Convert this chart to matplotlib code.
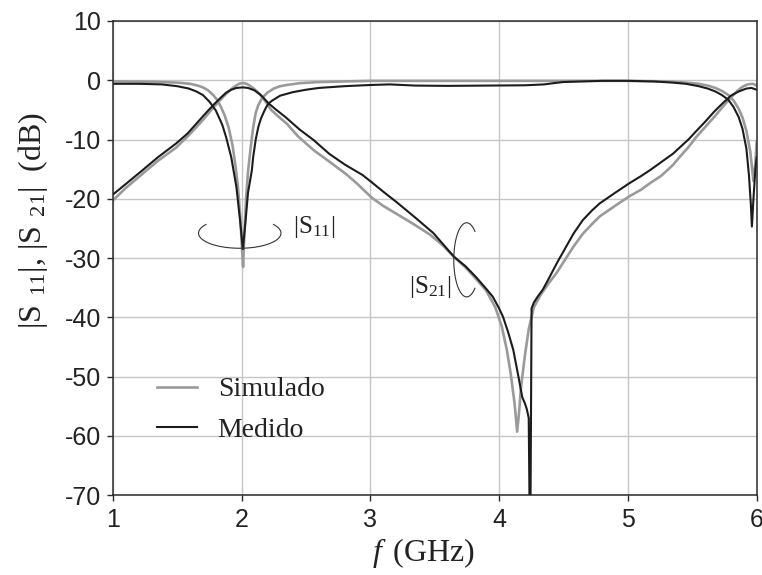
import matplotlib
matplotlib.use('Agg')
import matplotlib.pyplot as plt
import numpy as np

plt.rcParams['axes.unicode_minus'] = False
plt.rcParams['mathtext.fontset'] = 'custom'
plt.rcParams['mathtext.rm'] = 'Liberation Serif'
plt.rcParams['mathtext.it'] = 'Liberation Serif:italic'

# S11, simulated
f_s11_sim = [1.0, 1.3, 1.5, 1.6, 1.66, 1.7, 1.74, 1.78, 1.81, 1.84, 1.87, 1.9, 1.93,
             1.95, 1.97, 1.99, 2.005, 2.012, 2.02, 2.035, 2.05, 2.07, 2.09, 2.11, 2.13,
             2.16, 2.2, 2.25, 2.3, 2.35, 2.45, 2.6, 2.8, 3.0, 3.5, 4.0, 4.5, 5.0, 5.3,
             5.45, 5.55, 5.62, 5.68, 5.73, 5.78, 5.82, 5.86, 5.89, 5.92, 5.95, 5.975,
             5.99, 6.0]
db_s11_sim = [-0.2, -0.25, -0.4, -0.6, -0.9, -1.2, -1.7, -2.5, -3.3, -4.5, -6.0, -8.0,
              -11.0, -14.0, -17.5, -23.0, -29.0, -31.5, -27.0, -20.0, -15.5, -11.5,
              -8.0, -5.5, -4.2, -3.0, -2.1, -1.4, -1.0, -0.8, -0.5, -0.3, -0.2, -0.1,
              -0.1, -0.1, -0.1, -0.1, -0.2, -0.4, -0.6, -0.9, -1.3, -1.8, -2.5, -3.4,
              -4.8, -6.3, -8.5, -12.0, -17.0, -14.0, -10.5]

# S11, measured
f_s11_meas = [1.0, 1.2, 1.38, 1.5, 1.59, 1.65, 1.7, 1.75, 1.8, 1.85, 1.88, 1.92, 1.96,
              1.99, 2.01, 2.03, 2.05, 2.08, 2.09, 2.11, 2.13, 2.15, 2.17, 2.19, 2.21,
              2.24, 2.3, 2.4, 2.5, 2.6, 2.8, 3.0, 3.15, 3.25, 3.35, 3.6, 3.9, 4.2,
              4.35, 4.42, 4.5, 4.65, 4.8, 5.0, 5.2, 5.35, 5.45, 5.55, 5.62, 5.68, 5.73,
              5.78, 5.82, 5.86, 5.89, 5.92, 5.94, 5.955, 5.963, 5.975, 5.99, 6.0]
db_s11_meas = [-0.6, -0.6, -0.7, -1.0, -1.4, -1.9, -2.5, -3.6, -5.1, -7.5, -9.6, -13.0,
               -18.0, -24.0, -28.5, -24.0, -19.0, -15.2, -13.0, -10.0, -7.9, -6.5,
               -5.5, -4.6, -3.9, -3.4, -2.6, -2.0, -1.6, -1.3, -1.0, -0.8, -0.7, -0.8,
               -0.9, -0.95, -0.9, -0.85, -0.7, -0.5, -0.3, -0.2, -0.1, -0.1, -0.2,
               -0.4, -0.6, -1.0, -1.4, -1.9, -2.5, -3.3, -4.5, -6.2, -8.2, -11.5,
               -16.0, -21.0, -24.7, -20.0, -15.0, -13.0]

# S21, simulated
f_s21_sim = [1.0, 1.1, 1.23, 1.35, 1.49, 1.58, 1.65, 1.72, 1.78, 1.84, 1.88, 1.92,
             1.95, 1.98, 2.01, 2.04, 2.07, 2.1, 2.14, 2.18, 2.23, 2.29, 2.35, 2.44,
             2.56, 2.68, 2.81, 2.9, 3.01, 3.1, 3.2, 3.33, 3.46, 3.56, 3.65, 3.74, 3.82,
             3.9, 3.97, 4.02, 4.06, 4.09, 4.12, 4.14, 4.155, 4.17, 4.2, 4.23, 4.27,
             4.32, 4.38, 4.45, 4.52, 4.58, 4.65, 4.72, 4.78, 4.9, 5.01, 5.1, 5.17,
             5.26, 5.35, 5.4, 5.47, 5.53, 5.6, 5.67, 5.74, 5.8, 5.85, 5.89, 5.93,
             5.97, 6.0]
db_s21_sim = [-20.3, -18.2, -15.8, -13.6, -11.4, -9.5, -7.9, -6.2, -4.6, -3.2, -2.3,
              -1.5, -1.0, -0.6, -0.45, -0.6, -1.0, -1.5, -2.3, -3.4, -5.0, -6.2, -7.3,
              -9.5, -11.8, -13.7, -15.8, -17.5, -19.8, -21.2, -22.5, -24.2, -26.0,
              -27.8, -29.8, -31.6, -33.5, -35.5, -38.3, -41.5, -45.5, -49.5, -54.5,
              -59.3, -56.0, -51.8, -46.5, -42.0, -38.3, -36.3, -34.4, -32.4, -30.0,
              -28.0, -25.9, -24.3, -23.0, -21.2, -19.6, -18.5, -17.4, -16.1, -14.3,
              -13.0, -11.3, -9.6, -7.9, -6.2, -4.4, -2.9, -1.8, -1.1, -0.7, -0.6, -0.9]

# S21, measured
f_s21_meas = [1.0, 1.04, 1.23, 1.35, 1.49, 1.58, 1.65, 1.72, 1.78, 1.84, 1.88, 1.92,
              1.96, 2.01, 2.05, 2.1, 2.15, 2.21, 2.27, 2.34, 2.45, 2.56, 2.68, 2.8,
              2.94, 3.01, 3.1, 3.2, 3.35, 3.49, 3.65, 3.74, 3.82, 3.9, 3.95, 4.0,
              4.03, 4.07, 4.11, 4.15, 4.18, 4.2, 4.215, 4.23, 4.236, 4.244, 4.252,
              4.27, 4.3, 4.34, 4.38, 4.45, 4.52, 4.58, 4.65, 4.72, 4.78, 4.9, 5.01,
              5.1, 5.17, 5.26, 5.35, 5.4, 5.47, 5.53, 5.6, 5.67, 5.74, 5.8, 5.86,
              5.92, 5.96, 6.0]
db_s21_meas = [-19.3, -18.6, -15.2, -13.0, -10.7, -9.0, -7.3, -5.6, -4.2, -2.9, -2.1,
               -1.6, -1.3, -1.2, -1.3, -1.7, -2.5, -3.9, -5.0, -6.2, -8.3, -10.1,
               -12.4, -14.2, -16.0, -17.2, -18.8, -20.5, -23.2, -25.8, -29.8, -31.4,
               -33.2, -35.2, -36.5, -38.5, -39.9, -42.5, -45.5, -50.0, -53.5, -54.5,
               -55.5, -57.0, -71.0, -71.0, -38.5, -37.5, -36.5, -35.3, -33.7, -30.8,
               -28.1, -25.8, -23.6, -22.0, -20.8, -19.0, -17.4, -16.2, -15.2, -13.8,
               -12.4, -11.4, -10.0, -8.6, -7.0, -5.3, -3.8, -2.6, -1.9, -1.4, -1.3,
               -1.6]

gray = '#9a9a9a'
black = '#1c1c1c'
ink = '#222222'

fig, ax = plt.subplots(figsize=(7.62, 5.75), dpi=100)
fig.subplots_adjust(left=0.148, right=0.993, top=0.9635, bottom=0.139)

ax.plot(f_s11_sim, db_s11_sim, color=gray, lw=1.9, label='Simulado')
ax.plot(f_s21_sim, db_s21_sim, color=gray, lw=1.9)
ax.plot(f_s11_meas, db_s11_meas, color=black, lw=1.5, label='Medido')
ax.plot(f_s21_meas, db_s21_meas, color=black, lw=1.5)

ax.set_xlim(1, 6)
ax.set_ylim(-70, 10)
ax.set_xticks(range(1, 7))
ax.set_yticks(range(-70, 11, 10))
ax.grid(True, color='#c6c6c6', lw=1.0)
ax.set_axisbelow(True)
for s in ax.spines.values():
    s.set_color('#2a2a2a')
    s.set_linewidth(1.1)
ax.tick_params(direction='out', length=4, width=1.0, color='#2a2a2a', labelsize=18)
ax.tick_params(axis='y', pad=4.5)
ax.tick_params(axis='x', pad=5)
for lab in ax.get_xticklabels() + ax.get_yticklabels():
    lab.set_fontfamily('Liberation Sans')
    lab.set_color(ink)

ax.set_xlabel(r'$f\ \,\mathrm{(GHz)}$', fontsize=23, color=ink)
ax.xaxis.set_label_coords(0.483, -0.087)
ax.set_ylabel(r'$|\mathrm{S}_{\;\;11}|,\,|\mathrm{S}_{\;\;21}|\ \ \mathrm{(dB)}$', fontsize=23,
              color=ink)
ax.yaxis.set_label_coords(-0.097, 0.58)


def loop(cx, cy, a, b, t0, t1):
    t = np.radians(np.linspace(t0, t1, 120))
    ax.plot(cx + a * np.cos(t), cy + b * np.sin(t), color='#333333', lw=0.8)


# open loops marking the S11 and S21 traces
loop(1.986, -25.8, 0.32, 2.55, 145, 395)
loop(3.748, -30.3, 0.10, 6.25, 50, 310)
ax.text(2.40, -24.8, r'$|\mathrm{S}_{11}|$', fontsize=18, ha='left', va='center', color=ink)
ax.text(3.30, -34.9, r'$|\mathrm{S}_{21}|$', fontsize=18, ha='left', va='center', color=ink)

leg = ax.legend(loc='upper left', bbox_to_anchor=(0.068, 0.249), frameon=False,
                borderpad=0, borderaxespad=0, handlelength=1.45, handletextpad=0.75,
                labelspacing=0.55, prop={'family': 'Liberation Serif', 'size': 20})
for t in leg.get_texts():
    t.set_color(ink)

fig.savefig('out.png', dpi=100)
